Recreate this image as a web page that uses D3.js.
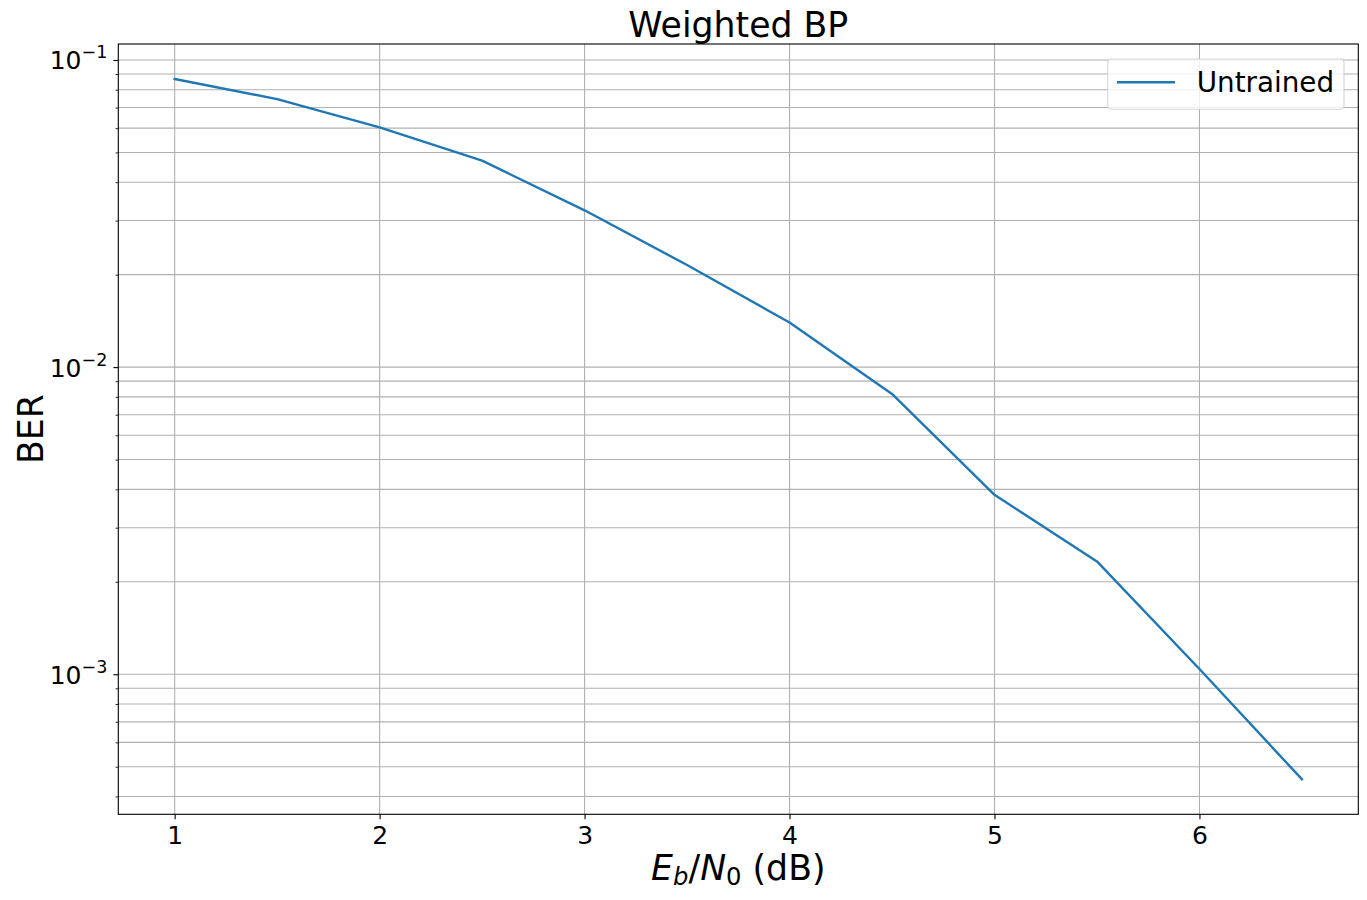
<!DOCTYPE html>
<html>
<head>
<meta charset="utf-8">
<script src="https://cdn.jsdelivr.net/npm/d3@7"></script>
<style>
  body { margin: 0; background: #fff; }
  svg { display: block; font-family: "DejaVu Sans", sans-serif; }
</style>
</head>
<body>
<svg id="canvas" width="1367" height="900"></svg>
<script>
// Eb/N0 in dB
let snrValues = [1.0, 1.5, 2.0, 2.5, 3.0, 3.5, 4.0, 4.5, 5.0, 5.5, 6.0, 6.5];
// BER of the untrained decoder
let berUntrained = [0.0867, 0.0746, 0.0603, 0.0470, 0.0324, 0.0215, 0.01397, 0.00818, 0.00384, 0.00233, 0.00104, 0.000455];
let xTicks = [1, 2, 3, 4, 5, 6];
let yTickExponents = [-1, -2, -3];
let seriesName = 'Untrained';

let canvas = d3.select('#canvas');

let plot = { left: 118.3, right: 1358.3, top: 44, bottom: 814.3 };
let gridColor = '#b0b0b0';
let lineColor = '#1f77b4';

let drawChart = () => {
	// matplotlib style 5% margins
	let xMin = d3.min(snrValues), xMax = d3.max(snrValues);
	let xPad = (xMax - xMin) * 0.05;
	let xScale = d3.scaleLinear()
		.domain([xMin - xPad, xMax + xPad])
		.range([plot.left, plot.right]);

	let lMin = Math.log10(d3.min(berUntrained)), lMax = Math.log10(d3.max(berUntrained));
	let lPad = (lMax - lMin) * 0.05;
	let yScale = d3.scaleLog()
		.domain([Math.pow(10, lMin - lPad), Math.pow(10, lMax + lPad)])
		.range([plot.bottom, plot.top]);

	let [yLo, yHi] = yScale.domain();
	let majorY = yTickExponents.map((e) => Math.pow(10, e));
	let minorY = [];
	for (let e = Math.floor(Math.log10(yLo)); e <= Math.ceil(Math.log10(yHi)); e++) {
		for (let m = 2; m <= 9; m++) {
			let v = m * Math.pow(10, e);
			if (v >= yLo && v <= yHi) minorY.push(v);
		}
	}

	// grid
	let grid = canvas.append('g');
	grid.selectAll('.gy')
		.data(majorY.concat(minorY))
		.enter()
		.append('line')
		.attr('x1', plot.left).attr('x2', plot.right)
		.attr('y1', (d) => yScale(d)).attr('y2', (d) => yScale(d))
		.attr('stroke', gridColor).attr('stroke-width', 1.1);
	grid.selectAll('.gx')
		.data(xTicks)
		.enter()
		.append('line')
		.attr('y1', plot.top).attr('y2', plot.bottom)
		.attr('x1', (d) => xScale(d)).attr('x2', (d) => xScale(d))
		.attr('stroke', gridColor).attr('stroke-width', 1.1);

	// the curve
	let line = d3.line()
		.x((d, i) => xScale(snrValues[i]))
		.y((d) => yScale(d));
	canvas.append('path')
		.datum(berUntrained)
		.attr('d', line)
		.attr('fill', 'none')
		.attr('stroke', lineColor)
		.attr('stroke-width', 2.4)
		.attr('stroke-linejoin', 'round')
		.attr('stroke-linecap', 'square');

	// spines
	canvas.append('rect')
		.attr('x', plot.left).attr('y', plot.top)
		.attr('width', plot.right - plot.left)
		.attr('height', plot.bottom - plot.top)
		.attr('fill', 'none')
		.attr('stroke', '#000')
		.attr('stroke-width', 1.1);

	// x axis
	let xAxis = d3.axisBottom(xScale)
		.tickValues(xTicks)
		.tickSize(4.9)
		.tickPadding(4.9)
		.tickFormat(d3.format('d'));
	let gx = canvas.append('g')
		.attr('transform', `translate(0, ${plot.bottom})`)
		.call(xAxis);
	gx.attr('font-size', null).attr('font-family', null);
	gx.select('.domain').remove();
	gx.selectAll('line').attr('stroke', '#000').attr('stroke-width', 1.1);
	gx.selectAll('text')
		.attr('dy', null)
		.attr('y', 844 - plot.bottom)
		.attr('font-size', 25)
		.attr('fill', '#000');

	// y axis, major and minor ticks
	let yAxisMinor = d3.axisLeft(yScale)
		.tickValues(minorY)
		.tickSize(2.8)
		.tickFormat('');
	let gyMinor = canvas.append('g')
		.attr('transform', `translate(${plot.left}, 0)`)
		.call(yAxisMinor);
	gyMinor.select('.domain').remove();
	gyMinor.selectAll('line').attr('stroke', '#000').attr('stroke-width', 0.8);

	let yAxis = d3.axisLeft(yScale)
		.tickValues(majorY)
		.tickSize(4.9)
		.tickFormat('');
	let gy = canvas.append('g')
		.attr('transform', `translate(${plot.left}, 0)`)
		.call(yAxis);
	gy.select('.domain').remove();
	gy.selectAll('line').attr('stroke', '#000').attr('stroke-width', 1.1);

	let yLabels = canvas.append('g');
	yTickExponents.forEach((e) => {
		let t = yLabels.append('text')
			.attr('x', plot.left - 11)
			.attr('y', yScale(Math.pow(10, e)) + 9.4)
			.attr('text-anchor', 'end')
			.attr('font-size', 25)
			.attr('fill', '#000');
		t.append('tspan').text('10');
		t.append('tspan')
			.attr('font-size', 17.5)
			.attr('dy', -11)
			.text('\u2212' + Math.abs(e));
	});

	// axis labels and title
	let xl = canvas.append('text')
		.attr('x', (plot.left + plot.right) / 2)
		.attr('y', 880)
		.attr('text-anchor', 'middle')
		.attr('font-size', 34.7)
		.attr('fill', '#000');
	xl.append('tspan').attr('font-style', 'italic').text('E');
	xl.append('tspan').attr('font-style', 'italic').attr('font-size', 24.3).attr('dy', 5).text('b');
	xl.append('tspan').attr('dy', -5).text('/');
	xl.append('tspan').attr('font-style', 'italic').text('N');
	xl.append('tspan').attr('font-size', 24.3).attr('dy', 5).text('0');
	xl.append('tspan').attr('dy', -5).text('\u00a0(dB)');

	canvas.append('text')
		.attr('transform', `translate(43, ${(plot.top + plot.bottom) / 2}) rotate(-90)`)
		.attr('text-anchor', 'middle')
		.attr('font-size', 34.7)
		.attr('fill', '#000')
		.text('BER');

	canvas.append('text')
		.attr('x', (plot.left + plot.right) / 2)
		.attr('y', 36.5)
		.attr('text-anchor', 'middle')
		.attr('font-size', 34.7)
		.attr('fill', '#000')
		.text('Weighted BP');

	// legend
	let legend = canvas.append('g');
	legend.append('rect')
		.attr('x', 1107.7).attr('y', 59)
		.attr('width', 236.3).attr('height', 50.3)
		.attr('rx', 4).attr('ry', 4)
		.attr('fill', 'rgba(255,255,255,0.8)')
		.attr('stroke', 'rgba(204,204,204,0.8)')
		.attr('stroke-width', 1.1);
	legend.append('line')
		.attr('x1', 1117).attr('x2', 1175)
		.attr('y1', 82.3).attr('y2', 82.3)
		.attr('stroke', lineColor)
		.attr('stroke-width', 2.4);
	legend.append('text')
		.attr('x', 1196.7).attr('y', 92.3)
		.attr('font-size', 27.8)
		.attr('fill', '#000')
		.text(seriesName);
};

drawChart();
</script>
</body>
</html>
